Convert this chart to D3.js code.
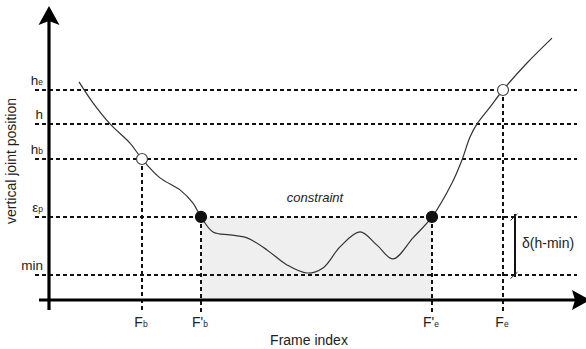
<!DOCTYPE html>
<html>
<head>
<meta charset="utf-8">
<script src="https://cdn.jsdelivr.net/npm/d3@7"></script>
<style>
  html, body { margin: 0; padding: 0; background: #fff; }
  svg { display: block; font-family: "Liberation Sans", Arial, sans-serif; }
</style>
</head>
<body>
<svg id="chart" width="586" height="349"></svg>
<script>
// Joint trajectory sample (frame index vs vertical joint position, arbitrary units)
const frames    = [6, 8.8, 12.2, 16.2, 18.6, 22.2, 26.2, 28.8, 30.4, 32.8, 36.2, 39.6, 43.6, 47.6, 51.6, 54.8, 58.2, 62.2, 65.6, 68.8, 72.8, 76.6, 80.6, 82.6, 84.2, 85.6, 88.2, 90.8, 95.6, 100.6];
const positions = [72.7, 65.7, 58.7, 52.3, 47, 40.7, 36.7, 32.3, 27.7, 22.7, 21.7, 20.7, 16.7, 11.7, 9, 10.7, 17.7, 22.7, 18.3, 13.7, 20.7, 27.7, 39, 46.7, 54.3, 58.7, 64.3, 70, 79, 87.3];

// Reference heights on the vertical axis
const levelMain  = ["h", "h", "h", "ε", "min"];
const levelSub   = ["e", "", "b", "p", ""];
const levelValue = [70, 58.7, 47, 27.7, 8.3];

// Reference frames on the horizontal axis
const frameMain  = ["F", "F'", "F'", "F"];
const frameSub   = ["b", "b", "e", "e"];
const frameValue = [18.6, 30.4, 76.6, 90.8];

// Marked points on the curve: [frame, height, filled]
const markFrame  = [18.6, 30.4, 76.6, 90.8];
const markHeight = [47, 27.7, 27.7, 70];
const markFilled = [false, true, true, false];

const svg = d3.select("#chart");
const x = d3.scaleLinear().domain([0, 100]).range([49, 549]);
const y = d3.scaleLinear().domain([0, 100]).range([300, 0]);

const x0 = x(0), y0 = y(0);
const lineEndX = 577;
const eps = levelValue[3], minV = levelValue[4];

// constraint region
svg.append("rect")
  .attr("x", x(frameValue[1])).attr("y", y(eps))
  .attr("width", x(frameValue[2]) - x(frameValue[1]))
  .attr("height", y0 - y(eps))
  .attr("fill", "#efefef");

// horizontal reference lines
svg.append("g").selectAll("line").data(levelValue).join("line")
  .attr("x1", 35).attr("x2", lineEndX)
  .attr("y1", d => y(d)).attr("y2", d => y(d))
  .attr("stroke", "#111").attr("stroke-width", 2).attr("stroke-dasharray", "4,3");

// vertical reference lines
const markTop = [levelValue[2], eps, eps, levelValue[0]];
svg.append("g").selectAll("line").data(frameValue).join("line")
  .attr("x1", d => x(d)).attr("x2", d => x(d))
  .attr("y1", (d, i) => y(markTop[i])).attr("y2", 312)
  .attr("stroke", "#111").attr("stroke-width", 2).attr("stroke-dasharray", "4,3");

// axes
svg.append("line").attr("x1", x0).attr("x2", x0).attr("y1", 18).attr("y2", 310)
  .attr("stroke", "#000").attr("stroke-width", 3.2);
svg.append("line").attr("x1", 39).attr("x2", 578).attr("y1", y0).attr("y2", y0)
  .attr("stroke", "#000").attr("stroke-width", 3.2);
svg.append("path")
  .attr("d", `M${x0},6 L${x0 - 10.5},25 L${x0},21 L${x0 + 10.5},25 Z`)
  .attr("fill", "#000");
svg.append("path")
  .attr("d", `M590,${y0} L572,${y0 - 10} L575,${y0} L572,${y0 + 10} Z`)
  .attr("fill", "#000");

// trajectory
const pts = frames.map((f, i) => [f, positions[i]]);
svg.append("path")
  .datum(pts)
  .attr("d", d3.line().x(d => x(d[0])).y(d => y(d[1])).curve(d3.curveCatmullRom.alpha(0.5)))
  .attr("fill", "none").attr("stroke", "#333").attr("stroke-width", 1.2);

// marked points
svg.append("g").selectAll("circle").data(markFrame).join("circle")
  .attr("cx", d => x(d)).attr("cy", (d, i) => y(markHeight[i]))
  .attr("r", 5.5)
  .attr("fill", (d, i) => markFilled[i] ? "#111" : "#fff")
  .attr("stroke", (d, i) => markFilled[i] ? "#111" : "#444")
  .attr("stroke-width", 1.2);

// level labels
const levelLabels = svg.append("g").selectAll("text").data(levelValue).join("text")
  .attr("x", 43).attr("y", d => y(d) - 5)
  .attr("text-anchor", "end").attr("fill", "#222").attr("font-size", 13.5);
levelLabels.append("tspan").text((d, i) => levelMain[i]);
levelLabels.append("tspan").attr("font-size", 8.5).text((d, i) => levelSub[i]);

// frame labels
const frameLabels = svg.append("g").selectAll("text").data(frameValue).join("text")
  .attr("x", d => x(d) - 1).attr("y", 327)
  .attr("text-anchor", "middle").attr("fill", "#222").attr("font-size", 14);
frameLabels.append("tspan").text((d, i) => frameMain[i]);
frameLabels.append("tspan").attr("font-size", 8.5).text((d, i) => frameSub[i]);

// axis titles
svg.append("text").attr("x", 309).attr("y", 345).attr("text-anchor", "middle")
  .attr("fill", "#222").attr("font-size", 14).text("Frame index");
svg.append("text").attr("transform", "translate(15.5,161) rotate(-90)")
  .attr("text-anchor", "middle").attr("fill", "#222").attr("font-size", 14)
  .text("vertical joint position");

// constraint label
svg.append("text").attr("x", 315).attr("y", 202).attr("text-anchor", "middle")
  .attr("fill", "#222").attr("font-size", 13).attr("font-style", "italic")
  .text("constraint");

// δ(h-min) bracket
const bx = 515;
svg.append("line").attr("x1", bx).attr("x2", bx).attr("y1", y(eps) - 3).attr("y2", y(minV) + 2)
  .attr("stroke", "#111").attr("stroke-width", 2);
[y(eps), y(minV)].forEach(yy => {
  svg.append("line").attr("x1", bx - 4.5).attr("x2", bx + 2.5).attr("y1", yy + 3.5).attr("y2", yy - 3)
    .attr("stroke", "#222").attr("stroke-width", 1);
});
svg.append("text").attr("x", 522).attr("y", 248).attr("fill", "#222").attr("font-size", 14)
  .text("δ(h-min)");
</script>
</body>
</html>
